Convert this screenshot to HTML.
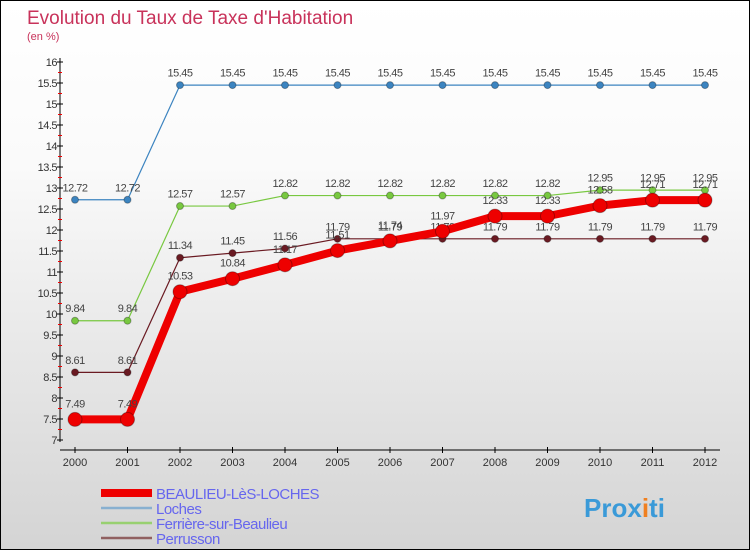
<!DOCTYPE html>
<html><head><meta charset="utf-8"><style>
body{margin:0}
#c{width:748px;height:548px;border:1px solid #000;background:linear-gradient(#fff,#fafafa 30%,#d4d4d4);position:relative;font-family:"Liberation Sans","DejaVu Sans",sans-serif}
svg{position:absolute;left:0;top:0}
</style></head><body>
<div id="c">
<svg id="s" width="748" height="548"></svg>
</div>
<script>
const years=["2000","2001","2002","2003","2004","2005","2006","2007","2008","2009","2010","2011","2012"];
const beaulieu=[7.49,7.49,10.53,10.84,11.17,11.51,11.74,11.97,12.33,12.33,12.58,12.71,12.71];
const loches=[12.72,12.72,15.45,15.45,15.45,15.45,15.45,15.45,15.45,15.45,15.45,15.45,15.45];
const ferriere=[9.84,9.84,12.57,12.57,12.82,12.82,12.82,12.82,12.82,12.82,12.95,12.95,12.95];
const perrusson=[8.61,8.61,11.34,11.45,11.56,11.79,11.79,11.79,11.79,11.79,11.79,11.79,11.79];
const yTicks=["7","7.5","8","8.5","9","9.5","10","10.5","11","11.5","12","12.5","13","13.5","14","14.5","15","15.5","16"];
const NS="http://www.w3.org/2000/svg",s=document.getElementById('s');
const X=i=>74+i*52.5, Y=v=>439-(v-7)*42;
function el(t,a,p){const e=document.createElementNS(NS,t);for(const k in a)e.setAttribute(k,a[k]);(p||s).appendChild(e);return e;}
function tx(x,y,str,a){const e=el('text',Object.assign({x:x,y:y},a));e.textContent=str;return e;}
let t=tx(26,23,"Evolution du Taux de Taxe d'Habitation",{fill:"#c8325a","font-size":19});

t=tx(26,39,"(en %)",{fill:"#c8325a","font-size":11});

let a=el('line',{x1:59,y1:57,x2:59,y2:441,stroke:"#000"});

yTicks.forEach(v=>{const y=Y(+v);el('line',{x1:56,y1:y,x2:62,y2:y,stroke:"#000"});
 if(+v<16)el('line',{x1:57,y1:Y(+v+0.25),x2:61,y2:Y(+v+0.25),stroke:"#e00"});
 const l=tx(56,y+4,v,{"text-anchor":"end","font-size":11,fill:"#333","letter-spacing":"-0.5"});
 });
a=el('line',{x1:59,y1:449,x2:719,y2:449,stroke:"#000"});

years.forEach((yr,i)=>{el('line',{x1:X(i),y1:446,x2:X(i),y2:452,stroke:"#000"});
 const l=tx(X(i),465,yr,{"text-anchor":"middle","font-size":11,fill:"#333"});
 });
function series(d,col,w,r,name){
 const g=el('g',{});
 el('polyline',{points:d.map((v,i)=>X(i)+','+Y(v)).join(' '),fill:'none',stroke:col,'stroke-width':w,'stroke-linejoin':'round'},g);
 d.forEach((v,i)=>{const c=el('circle',{cx:X(i),cy:Y(v),r:r,fill:col,stroke:'rgba(0,0,0,0.3)'},g);
  
  const l=tx(X(i),Y(v)-r-5,v.toFixed(2).replace(/0$/,'').replace(/\.$/,''),{"text-anchor":"middle","font-size":11,fill:"#444","letter-spacing":"-0.5"},g);
  });
}
series(loches,'#3c84c0',1.2,3.5,'loches');
series(ferriere,'#78c840',1.2,3.5,'ferriere');
series(perrusson,'#6a1a22',1.2,3.5,'perrusson');
series(beaulieu,'#ee0000',8,7,'beaulieu');
const leg=[["BEAULIEU-LèS-LOCHES","#ee0000",8],["Loches","#88b0d0",2.5],["Ferrière-sur-Beaulieu","#98d070",2.5],["Perrusson","#906060",2.5]];
leg.forEach((L,i)=>{const y=492+i*15;const g=el('g',{});
 el('line',{x1:100,y1:y,x2:151,y2:y,stroke:L[1],'stroke-width':L[2]},g);
 tx(155,y+6,L[0],{"font-size":15,fill:"#6666ee","letter-spacing":"-0.5"},g);});
const lg=tx(583,516,"Prox",{"font-size":26,"font-weight":"bold",fill:"#3a9ad8"});

const ts=el('tspan',{fill:"#f08020"},lg);ts.textContent="i";const ts2=el('tspan',{fill:"#3a9ad8"},lg);ts2.textContent="ti";
</script>
</body></html>
